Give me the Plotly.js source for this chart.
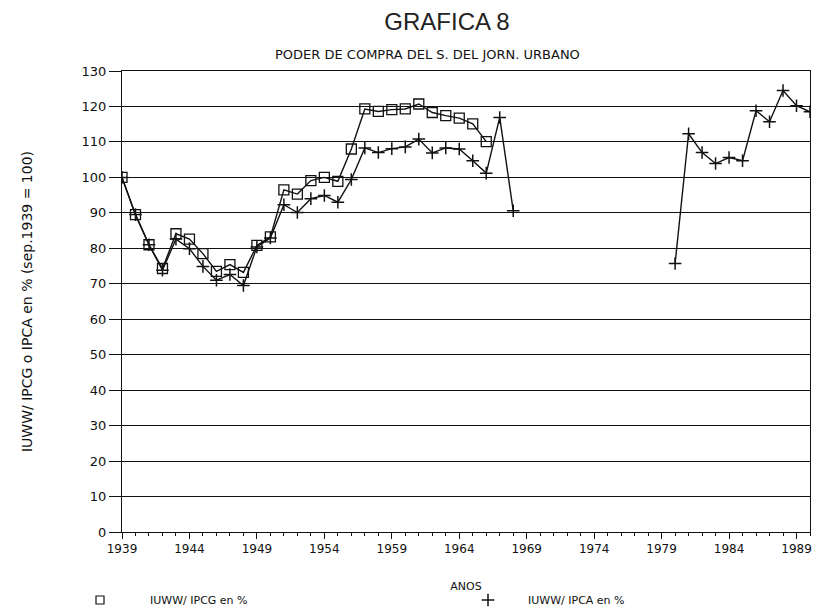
<!DOCTYPE html>
<html>
<head>
<meta charset="utf-8">
<script src="https://cdn.plot.ly/plotly-3.0.1.min.js"></script>
<style>html,body{margin:0;padding:0;background:#fff;}#chart{width:820px;height:611px;}</style>
</head>
<body>
<div id="chart"></div>
<script>
// Series 1: IUWW/IPCG en % (squares), 1939-1966
var yearsIPCG = [1939,1940,1941,1942,1943,1944,1945,1946,1947,1948,1949,1950,1951,1952,1953,1954,1955,1956,1957,1958,1959,1960,1961,1962,1963,1964,1965,1966];
var valuesIPCG = [100,89.5,81.0,74.3,84.1,82.6,78.5,73.5,75.4,73.2,80.8,83.2,96.5,95.3,99.1,100,98.9,108.0,119.3,118.6,119.1,119.3,120.7,118.3,117.4,116.7,115.1,110.1];

// Series 2: IUWW/IPCA en % (plus), 1939-1968 and 1980-1990 (gap = null)
var yearsIPCA = [1939,1940,1941,1942,1943,1944,1945,1946,1947,1948,1949,1950,1951,1952,1953,1954,1955,1956,1957,1958,1959,1960,1961,1962,1963,1964,1965,1966,1967,1968,1974,1980,1981,1982,1983,1984,1985,1986,1987,1988,1989,1990];
var valuesIPCA = [100,89.5,81.0,73.8,82.6,79.9,74.9,71.0,72.6,69.5,80.4,82.9,92.3,90.1,94.0,94.9,93.0,99.4,108.3,107.0,108.1,108.6,110.8,106.9,108.3,108.0,104.7,101.2,116.9,90.6,null,75.7,112.3,107.0,103.9,105.6,104.7,118.8,115.7,124.5,120.2,118.5];

var seriesNames = ["IUWW/ IPCG en %", "IUWW/ IPCA en %"];
var xTickVals = [1939,1944,1949,1954,1959,1964,1969,1974,1979,1984,1989];
var yTickVals = [0,10,20,30,40,50,60,70,80,90,100,110,120,130];

var FONT = "DejaVu Sans, Liberation Sans, sans-serif";
var INK = "#111";

var sqMarker = {symbol: "square-open", size: 10, color: INK, line: {width: 1.3, color: INK}};
var plMarker = {symbol: "cross-thin-open", size: 9, color: INK, line: {width: 1.5, color: INK}};

var traces = [
  {x: yearsIPCG, y: valuesIPCG, mode: "lines+markers", name: seriesNames[0], showlegend: false,
   line: {color: INK, width: 1.4}, marker: sqMarker},
  {x: yearsIPCA, y: valuesIPCA, mode: "lines+markers", name: seriesNames[1], showlegend: false, connectgaps: false,
   line: {color: INK, width: 1.4}, marker: plMarker},
  {x: [null], y: [null], mode: "markers", name: seriesNames[0], showlegend: true, legend: "legend",
   marker: {symbol: "square-open", size: 8, color: INK, line: {width: 1.2, color: INK}}},
  {x: [null], y: [null], mode: "markers", name: seriesNames[1], showlegend: true, legend: "legend2",
   marker: plMarker}
];

var W = 688, H = 461, L = 122, T = 71;
function px(x) { return (x - L) / W; }
function py(y) { return (T + H - y) / H; }

var layout = {
  width: 820, height: 611,
  paper_bgcolor: "#fff", plot_bgcolor: "#fff",
  margin: {l: 122, r: 10, t: 71, b: 79, autoexpand: false},
  font: {family: FONT, color: INK, size: 11},
  title: {text: "GRAFICA 8", x: 447/820, xanchor: "center", y: 1 - 22/611, yanchor: "middle",
          font: {family: "Liberation Sans, sans-serif", size: 24, color: "#222", weight: 300}},
  annotations: [
    {text: "PODER DE COMPRA DEL S. DEL JORN. URBANO", xref: "paper", yref: "paper",
     x: px(427), y: py(55), xanchor: "center", yanchor: "middle", showarrow: false,
     font: {family: FONT, size: 13, color: INK}}
  ],
  xaxis: {
    range: [1939, 1990], tickmode: "array", tickvals: xTickVals, ticktext: xTickVals.map(String),
    ticks: "outside", ticklen: 6, tickwidth: 1, tickcolor: INK,
    minor: {dtick: 1, tick0: 1939, ticks: "outside", ticklen: 3, tickcolor: INK, showgrid: false},
    showgrid: false, zeroline: false, showline: true, linecolor: INK, linewidth: 1, mirror: true,
    tickfont: {family: FONT, size: 12, color: INK},
    title: {text: "ANOS", standoff: 26, font: {family: FONT, size: 11, color: INK}},
    automargin: false
  },
  yaxis: {
    range: [0, 130], tickmode: "array", tickvals: yTickVals,
    ticks: "outside", ticklen: 12, tickwidth: 1, tickcolor: INK,
    showgrid: true, gridcolor: INK, gridwidth: 1,
    zeroline: false, showline: true, linecolor: INK, linewidth: 1, mirror: true,
    tickfont: {family: FONT, size: 13, color: INK},
    title: {text: "IUWW/ IPCG o IPCA en % (sep.1939 = 100)", standoff: 45, font: {family: FONT, size: 14, color: INK}},
    automargin: false
  },
  legend: {
    orientation: "h", x: px(50), xanchor: "left", y: py(600), yanchor: "middle",
    itemwidth: 90, font: {family: FONT, size: 11, color: INK}, bgcolor: "rgba(0,0,0,0)"
  },
  legend2: {
    orientation: "h", x: px(448), xanchor: "left", y: py(600), yanchor: "middle",
    itemwidth: 70, font: {family: FONT, size: 11, color: INK}, bgcolor: "rgba(0,0,0,0)"
  },
  showlegend: true
};

Plotly.newPlot("chart", traces, layout, {displayModeBar: false, staticPlot: true});
</script>
</body>
</html>
